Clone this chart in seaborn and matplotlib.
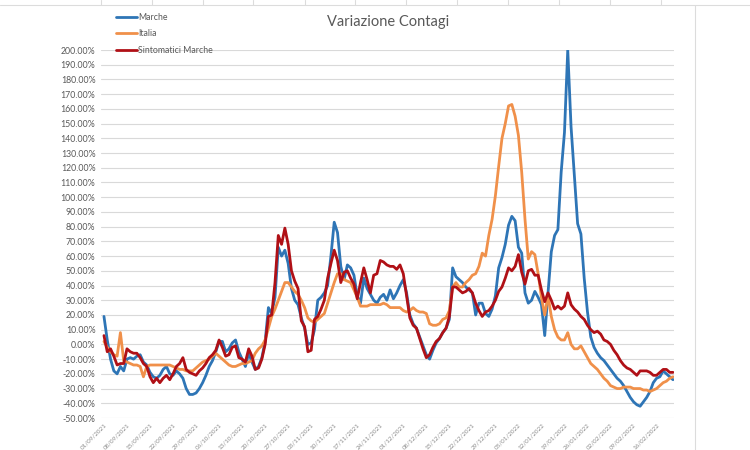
import numpy as np
import pandas as pd
import matplotlib
matplotlib.use("Agg")
import matplotlib.pyplot as plt
from matplotlib.lines import Line2D
from matplotlib.ticker import FuncFormatter
import seaborn as sns

# ---------------- data ----------------
start_date = "2021-09-01"
title = "Variazione Contagi"
series_names = ["Marche", "Italia", "Sintomatici Marche"]
series_colors = ["#2E75B6", "#F0904A", "#B01016"]

marche = [
    19, 3, -10, -18, -20, -15, -18, -10, -9, -10, -8, -7, -12, -14, -19, -22, -23, -21, -17, -15,
    -20, -21, -18, -20, -23, -30, -34, -34, -33, -30, -26, -21, -15, -11, -5, 2, 2, -5, -3, 1,
    3, -5, -10,
    -15, -6, -12, -17, -15, -9, 2, 25, 21, 32, 66, 60, 64, 55, 38, 30, 27, 18, 11, 0,
    1, 10, 30, 32, 35, 40, 60, 83, 76, 53, 44, 54, 52, 47, 33, 28, 45, 38, 34, 30,
    28, 32, 34, 30, 37,
    31, 35, 40, 44, 35, 20, 14, 11, 5, -1, -7, -10, -4, 1, 4, 8, 11, 17, 52, 46,
    44, 42, 39, 37, 35, 20, 28, 28, 21, 19, 24, 33, 52, 59, 68, 81, 87, 84, 66, 62,
    35, 28, 30, 36,
    32, 27, 6, 35, 63, 74, 78, 117, 144, 200, 148, 115, 82, 75, 45, 22, 5, -2, -6, -9,
    -11, -14, -17, -20, -23, -25, -28, -32, -36, -39, -41, -42, -39, -36, -32, -26, -23, -22, -18, -20,
    -22, -24,
]
italia = [
    2, -2, -5, -7, -8, 8, -11, -12, -13, -14, -14, -15, -22, -15, -14, -14, -14, -14, -14, -14,
    -14, -15, -16, -17, -17, -18, -18, -18, -16, -14, -12, -11, -10, -8, -6, -8, -10, -12, -14, -15,
    -15, -14, -13,
    -13, -12, -11, -6, -3, -1, 3, 11, 19, 24, 30, 36, 42, 42, 39, 36, 34, 30, 25, 18,
    16, 15, 17, 19, 21, 28, 35, 42, 48, 48, 44, 43, 42, 37, 32, 26, 26, 26, 27, 27,
    27, 27, 28, 27, 25,
    25, 25, 25, 23, 22, 23, 25, 23, 22, 22, 21, 14, 13, 13, 14, 17, 18, 23, 39, 42,
    39, 39, 42, 44, 47, 48, 53, 62, 60, 74, 85, 101, 121, 140, 150, 162, 163, 155, 142, 117,
    85, 58, 63, 61,
    48, 32, 20, 33, 19, 10, 5, 3, 3, 8, 0, -3, -3, -1, -5, -9, -13, -15, -17, -20,
    -23, -25, -28, -29, -30, -30, -29, -29, -29, -30, -30, -30, -31, -31, -32, -31, -30, -28, -26, -25,
    -23, -22,
]
sintomatici = [
    6, -5, -3, -8, -14, -13, -13, -3, -5, -6, -6, -9, -13, -15, -22, -26, -23, -26, -23, -21,
    -24, -20, -15, -13, -9, -17, -19, -20, -21, -18, -16, -13, -9, -7, -4, 3, -2, -8, -7, -2,
    -1, -9, -10,
    -12, -3, -8, -17, -16, -10, 0, 19, 20, 42, 74, 68, 79, 68, 50, 43, 38, 16, 12, -5,
    -4, 17, 19, 24, 30, 45, 55, 64, 57, 42, 49, 50, 45, 41, 31, 42, 52, 44, 35, 47,
    48, 57, 56, 54, 53,
    53, 51, 54, 48, 33, 18, 13, 11, 4, -3, -9, -7, -2, 2, 4, 8, 11, 19, 39, 39,
    37, 35, 36, 38, 35, 28, 23, 19, 22, 23, 26, 30, 36, 39, 45, 52, 50, 53, 61, 49,
    41, 50, 51, 47,
    47, 37, 29, 35, 30, 24, 26, 24, 26, 35, 27, 24, 22, 19, 17, 13, 10, 8, 9, 7,
    3, 2, 0, -4, -7, -11, -14, -16, -17, -19, -21, -18, -18, -18, -19, -21, -21, -19, -17, -17,
    -19, -19,
]
y_ticks = list(range(-50, 201, 10))
x_tick_step_days = 7

# ---------------- frame ----------------
n = len(marche)
dates = pd.date_range(start_date, periods=n, freq="D")
df = pd.DataFrame({
    "Data": np.tile(dates, 3),
    "Serie": np.repeat(series_names, n),
    "Valore": marche + italia + sintomatici,
})

sns.set_theme(style="white")
plt.rcParams["font.family"] = ["Lato", "DejaVu Sans"]

W, H = 750, 450
fig = plt.figure(figsize=(W / 100, H / 100), dpi=100)
fig.patch.set_facecolor("white")

# faint spreadsheet cell lines around the chart object
cell_col = "#dcdcdc"
fig.add_artist(Line2D([0, 1], [1 - 5 / H, 1 - 5 / H], transform=fig.transFigure, color=cell_col, lw=0.8))
for xc in [101, 152, 203, 253, 305, 355, 406, 457, 508, 559, 610, 661]:
    fig.add_artist(Line2D([xc / W, xc / W], [1 - 5 / H, 1], transform=fig.transFigure, color=cell_col, lw=0.8))
fig.add_artist(Line2D([695 / W, 695 / W], [0, 1 - 5 / H], transform=fig.transFigure, color=cell_col, lw=0.8))

ax = fig.add_axes([101 / W, 1 - 418 / H, 573 / W, 368 / H])

sns.lineplot(data=df, x="Data", y="Valore", hue="Serie", hue_order=series_names,
             palette=series_colors, linewidth=2.0, ax=ax, legend=True)

ax.set_ylim(-50, 200)
ax.set_yticks(y_ticks)
ax.yaxis.set_major_formatter(FuncFormatter(lambda v, p: f"{v:.2f}%"))
ax.set_xlim(dates[0] - pd.Timedelta(days=0.9), dates[-1] + pd.Timedelta(days=0.3))
xt = pd.date_range(dates[0], dates[-1], freq=f"{x_tick_step_days}D")
ax.set_xticks(xt)
ax.set_xticklabels([d.strftime("%d/%m/%Y") for d in xt], rotation=45, ha="right",
                   rotation_mode="anchor", fontsize=4.5, color="#8c8c8c")
ax.tick_params(axis="x", length=0, pad=3)
ax.tick_params(axis="y", length=0, pad=4, labelsize=6.3, labelcolor="#595959")
ax.grid(axis="y", color="#d9d9d9", linewidth=0.8)
ax.grid(axis="x", visible=False)
for s in ax.spines.values():
    s.set_visible(False)
ax.set_xlabel("")
ax.set_ylabel("")
ax.set_facecolor("white")

handles, labels = ax.get_legend_handles_labels()
ax.legend(handles, labels, loc="upper left", bbox_to_anchor=(116 / W, 1 - 13 / H),
          bbox_transform=fig.transFigure, frameon=False, fontsize=6.3,
          handlelength=2.4, handletextpad=0.15, labelspacing=0.85,
          borderpad=0, borderaxespad=0, labelcolor="#595959")

fig.text(388 / W, 1 - 22 / H, title, ha="center", va="center", fontsize=10.5, color="#595959")

fig.savefig("out.png", dpi=100, facecolor="white")
